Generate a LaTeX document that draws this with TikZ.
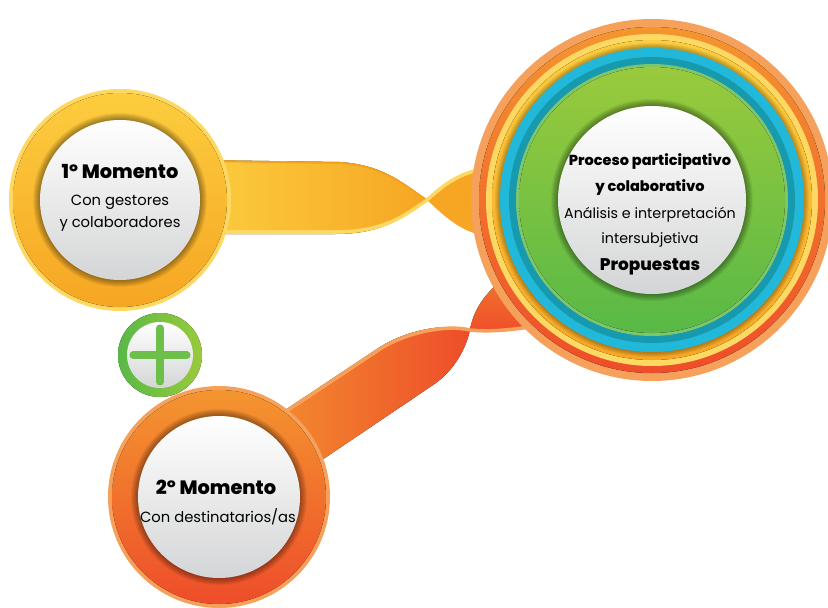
\documentclass[tikz,border=0pt]{standalone}
\usepackage{fontspec}
\setmainfont{Poppins}
\newfontfamily\heavyfont{Poppins}[UprightFont=* ExtraBold]
\usetikzlibrary{positioning}

\definecolor{ylwLight}{HTML}{FDD964}
\definecolor{ylwTop}{HTML}{FCCD3E}
\definecolor{ylwBot}{HTML}{F6A623}
\definecolor{ylwEdge}{HTML}{F4A21E}
\definecolor{orgLight}{HTML}{F5A05B}
\definecolor{orgTop}{HTML}{F4952F}
\definecolor{orgBot}{HTML}{EE4D2A}
\definecolor{bluRing}{HTML}{22B8DA}
\definecolor{tealRing}{HTML}{1799AE}
\definecolor{grnTop}{HTML}{9ACA3C}
\definecolor{grnBot}{HTML}{58B947}
\definecolor{grnEdge}{HTML}{7DC66B}
\definecolor{grnIcon}{HTML}{6CC04A}
\definecolor{diskGray}{HTML}{D4D5D6}

\tikzset{
  disk/.style={circle, inner sep=0pt, top color=white, bottom color=diskGray},
  softshadow/.style={fill=black, opacity=.06},
  headline/.style={font=\heavyfont\fontsize{16.5}{19}\selectfont},
  subline/.style={font=\fontsize{12.6}{15}\selectfont},
  bigbold/.style={font=\heavyfont\fontsize{12.4}{15}\selectfont},
  bigplain/.style={font=\fontsize{12.2}{14}\selectfont},
  glint/.style={line width=3pt}
}

\begin{document}
\begin{tikzpicture}[x=0.03cm, y=-0.03cm]
  \useasboundingbox (0,0) rectangle (828,607);

  % yellow ribbon
  \coordinate (twistA) at (427,200);
  \fill[left color=ylwTop, right color=ylwBot] (200,160) -- (340,162)
    .. controls (385,165) and (405,185) .. (twistA)
    .. controls (405,216) and (385,234) .. (335,234) -- (200,234) -- cycle;
  \draw[ylwEdge, line width=1.5pt] (200,161) -- (340,163) .. controls (385,166) and (405,186) .. (twistA);
  \draw[ylwLight, glint] (200,232) -- (335,232) .. controls (385,232) and (405,215) .. (twistA);
  \fill[ylwBot] (twistA) .. controls (445,183) and (462,168) .. (500,166)
    -- (500,238) .. controls (462,236) and (445,216) .. (twistA) -- cycle;
  \draw[ylwLight, glint] (twistA) .. controls (445,184) and (462,169) .. (500,167);

  % orange ribbon
  \coordinate (twistB) at (470,330);
  \fill[left color=orgTop, right color=orgBot] (240,440) -- (380,347)
    .. controls (405,331) and (445,322) .. (twistB)
    .. controls (466,348) and (455,370) .. (433,385) -- (270,495) -- cycle;
  \draw[orgLight, glint] (240,442) -- (380,349) .. controls (405,333) and (445,324) .. (twistB);
  \fill[top color=orgTop!70!orgBot, bottom color=orgBot] (twistB)
    .. controls (474,305) and (492,282) .. (530,262) -- (565,322)
    .. controls (530,328) and (500,334) .. (twistB) -- cycle;
  \draw[orgLight, glint] (twistB) .. controls (500,333) and (530,327) .. (565,321);

  % 1st moment
  \fill[ylwLight] (120,200) circle (111);
  \fill[top color=ylwTop, bottom color=ylwBot] (120,200) circle (107);
  \foreach \r in {81,...,87} \fill[softshadow] (120,200) circle (\r);
  \node[disk, minimum size=4.8cm] (m1) at (120,200) {};
  \node[headline] (m1title) at (120,171) {1º Momento};
  \node[subline] (m1lineA) at (120,202) {Con gestores};
  \node[subline] (m1lineB) at (120,224) {y colaboradores};

  % plus sign
  \fill[left color=grnBot, right color=grnTop] (160,355) circle (42);
  \node[disk, minimum size=1.98cm] (plus) at (160,355) {};
  \draw[grnIcon, line width=6pt, line cap=round] ([xshift=-0.81cm]plus.center) -- ([xshift=0.81cm]plus.center);
  \draw[grnIcon, line width=6pt, line cap=round] ([yshift=-0.81cm]plus.center) -- ([yshift=0.81cm]plus.center);

  % 2nd moment
  \fill[orgLight] (219,497) circle (111);
  \fill[top color=orgTop, bottom color=orgBot] (219,497) circle (107);
  \foreach \r in {82,...,88} \fill[softshadow] (219,497) circle (\r);
  \node[disk, minimum size=4.86cm] (m2) at (219,497) {};
  \node[headline] (m2title) at (216,487) {2º Momento};
  \node[subline] (m2line) at (218,517) {Con destinatarios/as};

  % big circle
  \fill[orgLight] (652,200) circle (181);
  \fill[top color=orgTop, bottom color=orgBot] (652,200) circle (173);
  \fill[ylwLight] (652,200) circle (166);
  \fill[top color=ylwTop, bottom color=ylwBot] (652,200) circle (160);
  \foreach \r in {153,...,157} \fill[softshadow] (652,200) circle (\r);
  \fill[bluRing] (652,200) circle (152);
  \fill[tealRing] (652,200) circle (143);
  \fill[grnEdge] (652,200) circle (136);
  \fill[top color=grnTop, bottom color=grnBot] (652,200) circle (133);
  \foreach \r in {95,...,101} \fill[softshadow] (652,200) circle (\r);
  \node[disk, minimum size=5.64cm] (core) at (652,200) {};
  \node[bigbold] (coreA) at (650,162) {Proceso participativo};
  \node[bigbold] (coreB) at (650,188) {y colaborativo};
  \node[bigplain] (coreC) at (650,215) {Análisis e interpretación};
  \node[bigplain] (coreD) at (650,240) {intersubjetiva};
  \node[bigbold, font=\heavyfont\fontsize{14.4}{17}\selectfont] (coreE) at (650,267) {Propuestas};
\end{tikzpicture}
\end{document}
